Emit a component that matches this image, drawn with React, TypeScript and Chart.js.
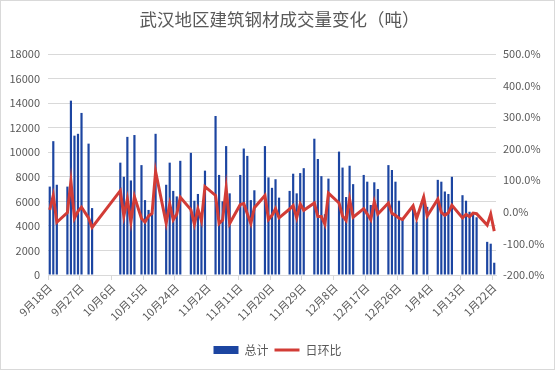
import React, { useEffect, useRef } from "react";
import { Chart, registerables } from "chart.js";

Chart.register(...registerables);

const TITLE = "武汉地区建筑钢材成交量变化（吨）";
const SERIES_BAR = "总计";
const SERIES_LINE = "日环比";

// x tick labels shown on the axis (every 9 days)
const tickLabels = [
  "9月18日", "9月27日", "10月6日", "10月15日", "10月24日", "11月2日", "11月11日",
  "11月20日", "11月29日", "12月8日", "12月17日", "12月26日", "1月4日", "1月13日", "1月22日",
];

// days with trading data
const tradeDays = [
  "9月18日", "9月19日", "9月20日", "9月23日", "9月24日", "9月25日", "9月26日", "9月27日", "9月29日", "9月30日",
  "10月8日", "10月9日", "10月10日", "10月11日", "10月12日", "10月14日", "10月15日", "10月16日", "10月17日", "10月18日",
  "10月21日", "10月22日", "10月23日", "10月24日", "10月25日", "10月28日", "10月29日", "10月30日", "10月31日",
  "11月1日", "11月4日", "11月5日", "11月6日", "11月7日", "11月8日", "11月11日", "11月12日", "11月13日", "11月14日", "11月15日",
  "11月18日", "11月19日", "11月20日", "11月21日", "11月22日", "11月25日", "11月26日", "11月27日", "11月28日", "11月29日",
  "12月2日", "12月3日", "12月4日", "12月5日", "12月6日", "12月9日", "12月10日", "12月11日", "12月12日", "12月13日",
  "12月16日", "12月17日", "12月18日", "12月19日", "12月20日", "12月23日", "12月24日", "12月25日", "12月26日", "12月27日",
  "12月30日", "12月31日", "1月2日", "1月3日", "1月6日", "1月7日", "1月8日", "1月9日", "1月10日",
  "1月13日", "1月14日", "1月15日", "1月16日", "1月17日", "1月20日", "1月21日", "1月22日",
];

// 总计 (吨)
const totals = [
  7200, 10900, 7350, 7200, 14200, 11350, 11500, 13200, 10700, 5450,
  9150, 8000, 11250, 7700, 11400, 8950, 6100, 5300, 5050, 11500,
  7350, 9150, 6850, 6400, 9300, 9950, 6050, 6600, 4700,
  8500, 12950, 8150, 6000, 10500, 6650, 8150, 10300, 9700, 6100, 6900,
  10500, 7950, 7100, 7800, 6300, 6850, 8250, 6650, 8300, 8700,
  11100, 9450, 8050, 4950, 7850, 10050, 8750, 6350, 8900, 7400,
  8150, 7600, 5700, 7550, 7000, 8950, 8550, 7600, 6050, 4600,
  5500, 4350, 6400, 5550, 7750, 7600, 6800, 6600, 8000,
  6500, 6050, 5150, 4950, 4700, 2700, 2550, 1000,
];

// 日环比 (%)
const dailyChange = [
  6, 52, -33, -2, 97, -20, 2, 15, -19, -49,
  67, -13, 41, -32, 48, -21, -32, -13, -5, 128,
  -36, 25, -25, -7, 46, 7, -39, 9, -28,
  80, 52, -37, -26, 75, -37, 23, 26, -6, -37, 13,
  52, -24, -11, 10, -19, 9, 20, -19, 25, 5,
  28, -15, -15, -39, 59, 28, -13, -27, 40, -17,
  10, -7, -25, 32, -7, 28, -5, -11, -20, -24,
  19, -21, 47, -13, 40, -2, -11, -3, 21,
  -19, -8, -15, -4, -6, -42, -7, -61,
];

const leftTicks = { min: 0, max: 18000, step: 2000 };
const rightTicks = { min: -200, max: 500, step: 100 };

const BLUE = "#1c45a1";
const RED = "#d23c36";
const TEXT = "#595959";
const GRID = "#d9d9d9";
const FONT = "'Noto Sans CJK SC', 'Noto Sans', sans-serif";

function buildCategories(): string[] {
  const out: string[] = [];
  const d = new Date(2022, 8, 18);
  const end = new Date(2023, 0, 22);
  while (d <= end) {
    out.push(`${d.getMonth() + 1}月${d.getDate()}日`);
    d.setDate(d.getDate() + 1);
  }
  return out;
}

export default function App() {
  const ref = useRef<HTMLCanvasElement | null>(null);

  useEffect(() => {
    if (!ref.current) return;
    const categories = buildCategories();
    const totalMap = new Map<string, number>();
    const changeMap = new Map<string, number>();
    tradeDays.forEach((d, i) => {
      totalMap.set(d, totals[i]);
      changeMap.set(d, dailyChange[i]);
    });
    const shown = new Set(tickLabels);

    const chart = new Chart(ref.current, {
      type: "bar",
      data: {
        labels: categories,
        datasets: [
          {
            type: "bar",
            label: SERIES_BAR,
            data: categories.map((c) => (totalMap.has(c) ? totalMap.get(c)! : null)),
            backgroundColor: BLUE,
            borderWidth: 0,
            barPercentage: 0.62,
            categoryPercentage: 1,
            yAxisID: "y",
            order: 2,
            pointStyle: "rect",
          } as any,
          {
            type: "line",
            label: SERIES_LINE,
            data: categories.map((c) => (changeMap.has(c) ? changeMap.get(c)! : null)),
            borderColor: RED,
            backgroundColor: RED,
            borderWidth: 3,
            pointRadius: 0,
            pointHoverRadius: 0,
            spanGaps: true,
            tension: 0,
            yAxisID: "y1",
            order: 1,
            pointStyle: "line",
          } as any,
        ],
      },
      options: {
        responsive: false,
        animation: false,
        devicePixelRatio: 1,
        layout: { padding: { top: 54, bottom: 4, left: 0, right: 0 } },
        plugins: {
          title: { display: false },
          tooltip: { enabled: false },
          legend: {
            display: true,
            position: "bottom",
            labels: {
              usePointStyle: true,
              pointStyleWidth: 25,
              boxWidth: 25,
              boxHeight: 8,
              padding: 6,
              color: TEXT,
              font: { size: 12, family: FONT },
              sort: (a: any, b: any) => a.datasetIndex - b.datasetIndex,
            },
          },
        },
        scales: {
          x: {
            offset: true,
            grid: {
              drawOnChartArea: false,
              drawTicks: true,
              tickLength: 5,
              color: (ctx: any) => {
                const i = ctx.index;
                const lbl = categories[i];
                return lbl !== undefined && shown.has(lbl) ? GRID : "rgba(0,0,0,0)";
              },
            },
            border: { display: true, color: GRID },
            ticks: {
              autoSkip: false,
              maxRotation: 45,
              minRotation: 45,
              padding: 1,
              color: TEXT,
              font: { size: 11, family: FONT },
              callback: (_v: any, i: number) => (shown.has(categories[i]) ? categories[i] : ""),
            },
            afterFit: (s: any) => {
              s.height = 63;
            },
          },
          y: {
            position: "left",
            min: leftTicks.min,
            max: leftTicks.max,
            ticks: {
              stepSize: leftTicks.step,
              padding: 8,
              color: TEXT,
              font: { size: 11, family: FONT },
              callback: (v: any) => String(v),
            },
            grid: { color: GRID, drawTicks: false },
            border: { display: false },
            afterFit: (s: any) => {
              s.width = 48;
            },
          },
          y1: {
            position: "right",
            min: rightTicks.min,
            max: rightTicks.max,
            ticks: {
              stepSize: rightTicks.step,
              padding: 7,
              color: TEXT,
              font: { size: 11, family: FONT },
              callback: (v: any) => `${Number(v).toFixed(1)}%`,
            },
            grid: { drawOnChartArea: false, drawTicks: false },
            border: { display: false },
            afterFit: (s: any) => {
              s.width = 59;
            },
          },
        },
      },
    });
    return () => chart.destroy();
  }, []);

  return (
    <div style={{ position: "fixed", left: 0, top: 0, width: 555, height: 370, background: "#fff" }}>
      <canvas ref={ref} width={555} height={370} style={{ display: "block" }} />
      <div
        style={{
          position: "absolute",
          left: 0,
          top: 8,
          width: 555,
          textAlign: "center",
          fontFamily: FONT,
          fontSize: 17.5,
          lineHeight: "22px",
          color: TEXT,
          paddingLeft: 4,
          boxSizing: "border-box",
        }}
      >
        {TITLE}
      </div>
      <div
        style={{
          position: "absolute",
          left: 0,
          top: 0,
          width: 555,
          height: 370,
          border: `1px solid ${GRID}`,
          boxSizing: "border-box",
          pointerEvents: "none",
        }}
      />
    </div>
  );
}
